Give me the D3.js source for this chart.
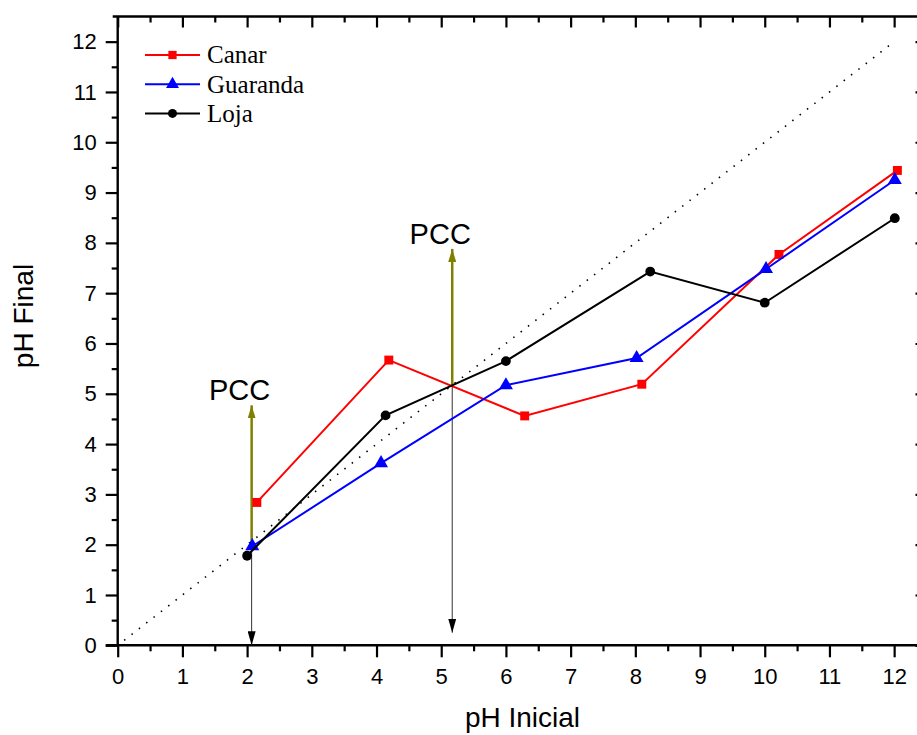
<!DOCTYPE html>
<html>
<head>
<meta charset="utf-8">
<script src="https://cdn.jsdelivr.net/npm/d3@7"></script>
<style>
  body { margin: 0; background: #fff; }
  svg { display: block; }
</style>
</head>
<body>
<svg id="chart"></svg>
<script>
// data
let canarX = [2.15, 4.19, 6.29, 8.1, 10.22, 12.05];
let canarY = [2.84, 5.67, 4.56, 5.19, 7.77, 9.44];
let guarX = [2.08, 4.07, 6.0, 8.02, 10.02, 12.01];
let guarY = [1.97, 3.62, 5.17, 5.71, 7.48, 9.25];
let lojaX = [2.0, 4.14, 6.0, 8.23, 10.0, 12.01];
let lojaY = [1.78, 4.57, 5.65, 7.43, 6.81, 8.49];

let seriesNames = ["Canar", "Guaranda", "Loja"];
let seriesColors = ["#ff0000", "#0000ff", "#000000"];
let seriesSymbols = [d3.symbolSquare, d3.symbolTriangle, d3.symbolCircle];

// PCC arrows: x, start (crossing), olive tip, black tip
let pccX = [2.07, 5.17];
let pccFrom = [1.95, 5.17];
let pccUp = [4.77, 7.88];
let pccDown = [0.0, 0.25];
let pccLabel = ["PCC", "PCC"];

let xTicks = d3.range(0, 13);
let yTicks = d3.range(0, 13);

function makeChart() {
    let w = 917;
    let h = 735;

    let svg = d3.select("#chart")
        .attr("width", w)
        .attr("height", h)
        .style("font-family", "'Liberation Sans', Arial, sans-serif");

    let xScale = d3.scaleLinear()
        .domain([0, 12.5])
        .range([117.7, 926.5]);
    let yScale = d3.scaleLinear()
        .domain([0, 12.5])
        .range([645.3, 16.5]);

    let x0 = xScale(0), x1 = xScale(12.5);
    let y0 = yScale(0), y1 = yScale(12.5);

    let defs = svg.append("defs");
    function marker(id, color, len, wid) {
        defs.append("marker")
            .attr("id", id)
            .attr("viewBox", "0 0 10 10")
            .attr("refX", 10)
            .attr("refY", 5)
            .attr("markerUnits", "userSpaceOnUse")
            .attr("markerWidth", len)
            .attr("markerHeight", wid)
            .attr("preserveAspectRatio", "none")
            .attr("orient", "auto")
            .append("path")
            .attr("d", "M0,0 L10,5 L0,10 Z")
            .attr("fill", color);
    }
    marker("headBlack", "#000", 14, 8);
    marker("headOlive", "#808000", 13, 8);

    // axes: bottom, left (outward ticks), top, right (inward ticks)
    let minor = d3.range(0.5, 12.5, 1);
    let bottom = d3.axisBottom(xScale).tickValues(xTicks).tickSize(12).tickPadding(11).tickFormat(d3.format("d"));
    let bottomMinor = d3.axisBottom(xScale).tickValues(minor).tickSize(6).tickFormat("");
    let left = d3.axisLeft(yScale).tickValues(yTicks).tickSize(12).tickPadding(9).tickFormat(d3.format("d"));
    let leftMinor = d3.axisLeft(yScale).tickValues(minor).tickSize(6).tickFormat("");
    let top = d3.axisBottom(xScale).tickValues(xTicks).tickSize(11).tickFormat("");
    let topMinor = d3.axisBottom(xScale).tickValues(minor).tickSize(6).tickFormat("");
    let right = d3.axisLeft(yScale).tickValues(yTicks).tickSize(11).tickFormat("");
    let rightMinor = d3.axisLeft(yScale).tickValues(minor).tickSize(6).tickFormat("");

    let axes = [
        [bottom, `translate(0,${y0})`],
        [bottomMinor, `translate(0,${y0})`],
        [left, `translate(${x0},0)`],
        [leftMinor, `translate(${x0},0)`],
        [top, `translate(0,${y1})`],
        [topMinor, `translate(0,${y1})`],
        [right, `translate(${x1},0)`],
        [rightMinor, `translate(${x1},0)`]
    ];
    axes.forEach(([ax, tr]) => {
        let g = svg.append("g").attr("transform", tr).call(ax);
        g.attr("font-size", 22).attr("font-family", "'Liberation Sans', Arial, sans-serif");
        g.select(".domain").remove();
        g.selectAll("line").attr("stroke", "#000").attr("stroke-width", 2.2);
        g.selectAll("text")
            .attr("fill", "#000")
            .style("font-size", "22px")
            .style("font-family", "'Liberation Sans', Arial, sans-serif");
    });

    // frame lines
    svg.append("path")
        .attr("d", `M${x0 - 5},${y1}H${x1}M${x0},${y1}V${y0}M${x0 - 12},${y0}H${x1}M${x1},${y1}V${y0}`)
        .attr("stroke", "#000")
        .attr("stroke-width", 2.4)
        .attr("fill", "none");

    // y = x reference
    svg.append("line")
        .attr("x1", xScale(0.1)).attr("y1", yScale(0.1))
        .attr("x2", xScale(11.95)).attr("y2", yScale(11.95))
        .attr("stroke", "#000")
        .attr("stroke-width", 1.6)
        .attr("stroke-dasharray", "1.5,7.8");

    // PCC arrows
    pccX.forEach((px, i) => {
        svg.append("line")
            .attr("x1", xScale(px)).attr("y1", yScale(pccFrom[i]))
            .attr("x2", xScale(px)).attr("y2", yScale(pccDown[i]))
            .attr("stroke", "#333")
            .attr("stroke-width", 1)
            .attr("marker-end", "url(#headBlack)");
        svg.append("line")
            .attr("x1", xScale(px)).attr("y1", yScale(pccFrom[i]))
            .attr("x2", xScale(px)).attr("y2", yScale(pccUp[i]))
            .attr("stroke", "#808000")
            .attr("stroke-width", 2.5)
            .attr("marker-end", "url(#headOlive)");
        svg.append("text")
            .attr("x", xScale(px) - 12)
            .attr("y", yScale(pccUp[i]) - 5)
            .attr("text-anchor", "middle")
            .attr("font-size", 29)
            .text(pccLabel[i]);
    });

    // series
    let all = [
        canarX.map((v, i) => [v, canarY[i]]),
        guarX.map((v, i) => [v, guarY[i]]),
        lojaX.map((v, i) => [v, lojaY[i]])
    ];
    let line = d3.line().x(d => xScale(d[0])).y(d => yScale(d[1]));
    let sizes = [80, 85, 75];

    all.forEach((pts, k) => {
        svg.append("path")
            .attr("d", line(pts))
            .attr("fill", "none")
            .attr("stroke", seriesColors[k])
            .attr("stroke-width", 2);
        svg.append("g").selectAll("path")
            .data(pts)
            .join("path")
            .attr("transform", d => `translate(${xScale(d[0])},${yScale(d[1])})`)
            .attr("d", d3.symbol(seriesSymbols[k], sizes[k]))
            .attr("fill", seriesColors[k]);
    });

    // legend
    let legend = svg.append("g").attr("transform", "translate(145,55)");
    seriesNames.forEach((name, k) => {
        let row = legend.append("g").attr("transform", `translate(0,${k * 29.2})`);
        row.append("line")
            .attr("x1", 0).attr("x2", 55)
            .attr("stroke", seriesColors[k])
            .attr("stroke-width", 2);
        row.append("path")
            .attr("transform", "translate(27.5,0)")
            .attr("d", d3.symbol(seriesSymbols[k], sizes[k] * 0.85))
            .attr("fill", seriesColors[k]);
        row.append("text")
            .attr("x", 62)
            .attr("y", 8.3)
            .attr("font-family", "'Liberation Serif', 'Times New Roman', serif")
            .attr("font-size", 25)
            .text(name);
    });

    // axis titles
    svg.append("text")
        .attr("x", 522.5)
        .attr("y", 727)
        .attr("text-anchor", "middle")
        .attr("font-size", 28)
        .text("pH Inicial");
    svg.append("text")
        .attr("transform", `translate(33,316) rotate(-90)`)
        .attr("text-anchor", "middle")
        .attr("font-size", 28)
        .text("pH Final");
}

window.onload = function() {
    makeChart();
};
</script>
</body>
</html>
